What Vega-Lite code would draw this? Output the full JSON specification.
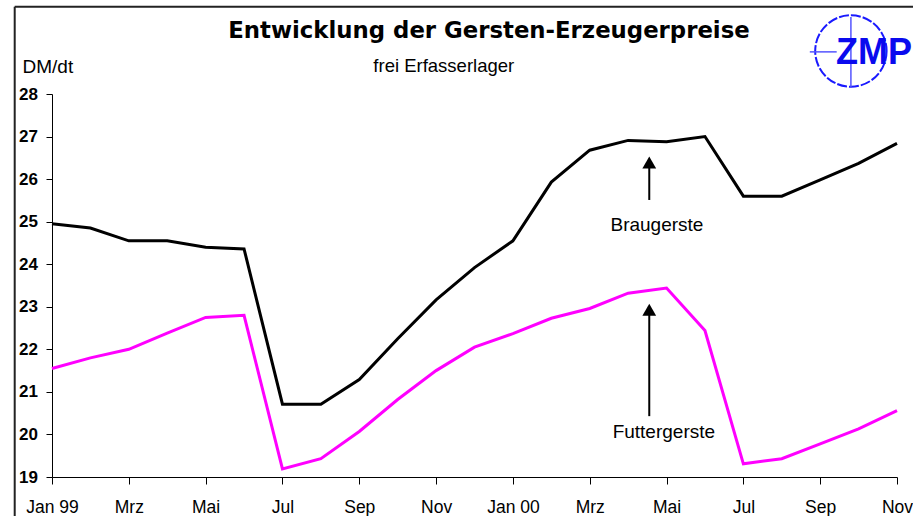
{
  "$schema": "https://vega.github.io/schema/vega-lite/v6.json",
  "width": 845,
  "height": 383,
  "autosize": {"type": "none"},
  "padding": {"left": 52, "top": 94, "right": 16, "bottom": 39},
  "background": "white",
  "config": {"view": {"stroke": null}, "font": "Liberation Sans"},
  "title": {
    "text": "Entwicklung der Gersten-Erzeugerpreise",
    "font": "DejaVu Sans",
    "fontSize": 22.8,
    "fontWeight": "bold",
    "color": "#000000",
    "anchor": "middle",
    "frame": "group",
    "baseline": "alphabetic",
    "dx": 14.5,
    "offset": -54.7
  },
  "datasets": {
    "preise": [
      {"nr": 0, "monat": "Jan 99", "sorte": "Braugerste", "preis": 24.95},
      {"nr": 1, "monat": "Feb 99", "sorte": "Braugerste", "preis": 24.85},
      {"nr": 2, "monat": "Mrz 99", "sorte": "Braugerste", "preis": 24.55},
      {"nr": 3, "monat": "Apr 99", "sorte": "Braugerste", "preis": 24.55},
      {"nr": 4, "monat": "Mai 99", "sorte": "Braugerste", "preis": 24.4},
      {"nr": 5, "monat": "Jun 99", "sorte": "Braugerste", "preis": 24.36},
      {"nr": 6, "monat": "Jul 99", "sorte": "Braugerste", "preis": 20.71},
      {"nr": 7, "monat": "Aug 99", "sorte": "Braugerste", "preis": 20.71},
      {"nr": 8, "monat": "Sep 99", "sorte": "Braugerste", "preis": 21.29},
      {"nr": 9, "monat": "Okt 99", "sorte": "Braugerste", "preis": 22.25},
      {"nr": 10, "monat": "Nov 99", "sorte": "Braugerste", "preis": 23.16},
      {"nr": 11, "monat": "Dez 99", "sorte": "Braugerste", "preis": 23.92},
      {"nr": 12, "monat": "Jan 00", "sorte": "Braugerste", "preis": 24.55},
      {"nr": 13, "monat": "Feb 00", "sorte": "Braugerste", "preis": 25.93},
      {"nr": 14, "monat": "Mrz 00", "sorte": "Braugerste", "preis": 26.68},
      {"nr": 15, "monat": "Apr 00", "sorte": "Braugerste", "preis": 26.91},
      {"nr": 16, "monat": "Mai 00", "sorte": "Braugerste", "preis": 26.88},
      {"nr": 17, "monat": "Jun 00", "sorte": "Braugerste", "preis": 27.0},
      {"nr": 18, "monat": "Jul 00", "sorte": "Braugerste", "preis": 25.6},
      {"nr": 19, "monat": "Aug 00", "sorte": "Braugerste", "preis": 25.6},
      {"nr": 20, "monat": "Sep 00", "sorte": "Braugerste", "preis": 25.98},
      {"nr": 21, "monat": "Okt 00", "sorte": "Braugerste", "preis": 26.37},
      {"nr": 22, "monat": "Nov 00", "sorte": "Braugerste", "preis": 26.84},
      {"nr": 0, "monat": "Jan 99", "sorte": "Futtergerste", "preis": 21.55},
      {"nr": 1, "monat": "Feb 99", "sorte": "Futtergerste", "preis": 21.8},
      {"nr": 2, "monat": "Mrz 99", "sorte": "Futtergerste", "preis": 22.0},
      {"nr": 3, "monat": "Apr 99", "sorte": "Futtergerste", "preis": 22.38},
      {"nr": 4, "monat": "Mai 99", "sorte": "Futtergerste", "preis": 22.75},
      {"nr": 5, "monat": "Jun 99", "sorte": "Futtergerste", "preis": 22.8},
      {"nr": 6, "monat": "Jul 99", "sorte": "Futtergerste", "preis": 19.19},
      {"nr": 7, "monat": "Aug 99", "sorte": "Futtergerste", "preis": 19.43},
      {"nr": 8, "monat": "Sep 99", "sorte": "Futtergerste", "preis": 20.07},
      {"nr": 9, "monat": "Okt 99", "sorte": "Futtergerste", "preis": 20.82},
      {"nr": 10, "monat": "Nov 99", "sorte": "Futtergerste", "preis": 21.5},
      {"nr": 11, "monat": "Dez 99", "sorte": "Futtergerste", "preis": 22.05},
      {"nr": 12, "monat": "Jan 00", "sorte": "Futtergerste", "preis": 22.37},
      {"nr": 13, "monat": "Feb 00", "sorte": "Futtergerste", "preis": 22.73},
      {"nr": 14, "monat": "Mrz 00", "sorte": "Futtergerste", "preis": 22.96},
      {"nr": 15, "monat": "Apr 00", "sorte": "Futtergerste", "preis": 23.32},
      {"nr": 16, "monat": "Mai 00", "sorte": "Futtergerste", "preis": 23.44},
      {"nr": 17, "monat": "Jun 00", "sorte": "Futtergerste", "preis": 22.44},
      {"nr": 18, "monat": "Jul 00", "sorte": "Futtergerste", "preis": 19.31},
      {"nr": 19, "monat": "Aug 00", "sorte": "Futtergerste", "preis": 19.43},
      {"nr": 20, "monat": "Sep 00", "sorte": "Futtergerste", "preis": 19.78},
      {"nr": 21, "monat": "Okt 00", "sorte": "Futtergerste", "preis": 20.13},
      {"nr": 22, "monat": "Nov 00", "sorte": "Futtergerste", "preis": 20.56}
    ],
    "pfeile": [
      {"nr": 15.55, "preis": 25.51, "preis2": 26.3},
      {"nr": 15.55, "preis": 20.43, "preis2": 22.85}
    ],
    "spitzen": [
      {"nr": 15.55, "preis": 26.39},
      {"nr": 15.55, "preis": 22.93}
    ],
    "beschriftung": [
      {"nr": 15.75, "preis": 24.78, "text": "Braugerste"},
      {"nr": 15.93, "preis": 19.92, "text": "Futtergerste"}
    ],
    "untertitel": [
      {"nr": 10.2, "preis": 28.516, "text": "frei Erfasserlager"}
    ],
    "logo_kreis": [
      {"nr": 20.8, "preis": 29.01}
    ],
    "logo_linien": [
      {"nr": 20.8, "nr2": 20.8, "preis": 28.14, "preis2": 29.81},
      {"nr": 19.73, "nr2": 20.43, "preis": 28.99, "preis2": 28.99}
    ],
    "logo_text": [
      {"nr": 20.41, "preis": 28.7, "text": "ZMP"}
    ],
    "rahmen": [
      {"nr": -0.971, "nr2": -0.971, "preis": 17.9, "preis2": 30.05},
      {"nr": -0.971, "nr2": 23.0, "preis": 30.05, "preis2": 30.05}
    ]
  },
  "layer": [
    {
      "data": {"name": "rahmen"},
      "mark": {"type": "rule", "color": "#222222", "strokeWidth": 2, "clip": false},
      "encoding": {
        "x": {"field": "nr", "type": "quantitative"},
        "x2": {"field": "nr2"},
        "y": {"field": "preis", "type": "quantitative"},
        "y2": {"field": "preis2"}
      }
    },
    {
      "data": {"name": "preise"},
      "mark": {"type": "line", "strokeWidth": 3, "strokeJoin": "miter", "clip": false},
      "encoding": {
        "x": {
          "field": "nr",
          "type": "quantitative",
          "scale": {"domain": [0, 22], "nice": false, "zero": false},
          "axis": {
            "title": null,
            "values": [0, 1, 2, 3, 4, 5, 6, 7, 8, 9, 10, 11, 12, 13, 14, 15, 16, 17, 18, 19, 20, 21, 22],
            "labelExpr": "datum.value % 2 == 1 ? '' : ['Jan 99','Mrz','Mai','Jul','Sep','Nov','Jan 00','Mrz','Mai','Jul','Sep','Nov'][datum.value / 2]",
            "grid": false,
            "domainColor": "#000000",
            "domainWidth": 1,
            "tickColor": "#000000",
            "tickSize": 7,
            "tickWidth": 1,
            "labelFont": "Liberation Sans",
            "labelFontSize": 17.5,
            "labelColor": "#000000",
            "labelBaseline": "alphabetic",
            "labelPadding": 28.5,
            "labelFlush": false,
            "labelOverlap": false,
            "labelBound": false
          }
        },
        "y": {
          "field": "preis",
          "type": "quantitative",
          "scale": {"domain": [19, 28], "nice": false, "zero": false},
          "axis": {
            "title": "DM/dt",
            "titleAngle": 0,
            "titleAlign": "left",
            "titleBaseline": "alphabetic",
            "titleX": -30,
            "titleY": -22,
            "titleFont": "Liberation Sans",
            "titleFontSize": 19,
            "titleFontWeight": "normal",
            "titleColor": "#000000",
            "values": [19, 20, 21, 22, 23, 24, 25, 26, 27, 28],
            "grid": false,
            "domainColor": "#000000",
            "domainWidth": 1,
            "tickColor": "#000000",
            "tickSize": 6,
            "tickWidth": 1,
            "labelFont": "Liberation Sans",
            "labelFontSize": 17,
            "labelFontWeight": "bold",
            "labelColor": "#000000",
            "labelPadding": 8.5,
            "labelFlush": false,
            "labelOverlap": false,
            "labelBound": false
          }
        },
        "color": {
          "field": "sorte",
          "type": "nominal",
          "scale": {"domain": ["Braugerste", "Futtergerste"], "range": ["#000000", "#ff00ff"]},
          "legend": null
        }
      }
    },
    {
      "data": {"name": "pfeile"},
      "mark": {"type": "rule", "color": "#000000", "strokeWidth": 2},
      "encoding": {
        "x": {"field": "nr", "type": "quantitative"},
        "y": {"field": "preis", "type": "quantitative"},
        "y2": {"field": "preis2"}
      }
    },
    {
      "data": {"name": "spitzen"},
      "mark": {"type": "point", "shape": "triangle-up", "filled": true, "color": "#000000", "size": 190, "opacity": 1},
      "encoding": {
        "x": {"field": "nr", "type": "quantitative"},
        "y": {"field": "preis", "type": "quantitative"}
      }
    },
    {
      "data": {"name": "beschriftung"},
      "mark": {"type": "text", "font": "Liberation Sans", "fontSize": 19, "color": "#000000", "align": "center", "baseline": "alphabetic"},
      "encoding": {
        "x": {"field": "nr", "type": "quantitative"},
        "y": {"field": "preis", "type": "quantitative"},
        "text": {"field": "text"}
      }
    },
    {
      "data": {"name": "untertitel"},
      "mark": {"type": "text", "font": "Liberation Sans", "fontSize": 18.5, "color": "#000000", "align": "center", "baseline": "alphabetic", "clip": false},
      "encoding": {
        "x": {"field": "nr", "type": "quantitative"},
        "y": {"field": "preis", "type": "quantitative"},
        "text": {"field": "text"}
      }
    },
    {
      "data": {"name": "logo_kreis"},
      "mark": {"type": "point", "shape": "circle", "filled": false, "color": "#1a1aff", "strokeWidth": 2, "size": 5100, "opacity": 1, "strokeDash": [10, 2]},
      "encoding": {
        "x": {"field": "nr", "type": "quantitative"},
        "y": {"field": "preis", "type": "quantitative"}
      }
    },
    {
      "data": {"name": "logo_linien"},
      "mark": {"type": "rule", "color": "#5555ff", "strokeWidth": 1.5},
      "encoding": {
        "x": {"field": "nr", "type": "quantitative"},
        "x2": {"field": "nr2"},
        "y": {"field": "preis", "type": "quantitative"},
        "y2": {"field": "preis2"}
      }
    },
    {
      "data": {"name": "logo_text"},
      "mark": {"type": "text", "font": "Liberation Sans", "fontSize": 36, "fontWeight": "bold", "color": "#0a0aee", "align": "left", "baseline": "alphabetic"},
      "encoding": {
        "x": {"field": "nr", "type": "quantitative"},
        "y": {"field": "preis", "type": "quantitative"},
        "text": {"field": "text"}
      }
    }
  ]
}
